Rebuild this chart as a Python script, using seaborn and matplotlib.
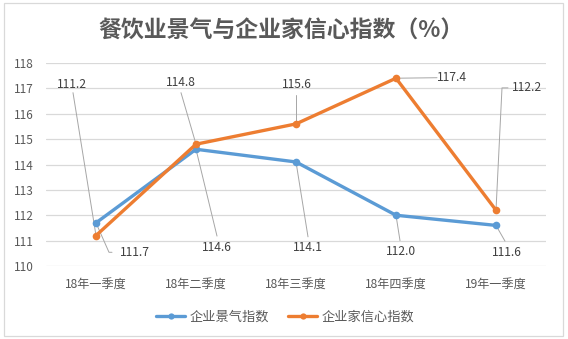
import numpy as np
import pandas as pd
import matplotlib
matplotlib.use("Agg")
import matplotlib.pyplot as plt
from matplotlib.lines import Line2D
from matplotlib.patches import Rectangle
import seaborn as sns

# ---- data ----
categories = ["18年一季度", "18年二季度", "18年三季度", "18年四季度", "19年一季度"]
prosperity = [111.7, 114.6, 114.1, 112.0, 111.6]      # 企业景气指数
confidence = [111.2, 114.8, 115.6, 117.4, 112.2]      # 企业家信心指数
series_names = ["企业景气指数", "企业家信心指数"]
title = "餐饮业景气与企业家信心指数（%）"

# ---- layout (label placements, in data coords) ----
blue_lbl = [(0.39, 110.54), (1.21, 110.74), (2.12, 110.74), (3.05, 110.58), (4.11, 110.54)]
orange_lbl = [(-0.24, 117.14), (0.85, 117.22), (2.01, 117.14), (3.56, 117.42), (4.31, 117.02)]
blue_lead = [[(0.16, 110.54), (0.13, 110.54)], [(1.21, 111.18)], [(2.12, 111.15)],
             [(3.04, 111.0)], [(4.09, 110.98)]]
orange_lead = [[(-0.23, 116.83)], [(0.85, 116.83)], [(2.0, 116.75)],
               [(3.41, 117.42)], [(4.12, 117.02), (4.06, 117.02)]]

sns.set_theme(style="white")
plt.rcParams["font.family"] = ["Noto Sans CJK SC", "DejaVu Sans"]

BLUE = "#5B9BD5"
ORANGE = "#ED7D31"
GRID = "#D9D9D9"
TXT = "#595959"

df = pd.DataFrame({
    "x": list(range(len(categories))) * 2,
    "value": prosperity + confidence,
    "series": [series_names[0]] * len(categories) + [series_names[1]] * len(categories),
})

fig = plt.figure(figsize=(5.68, 3.39), dpi=100)
fig.patch.set_facecolor("white")
fig.patches.append(Rectangle((4 / 568, 3 / 339), 559 / 568, 333 / 339, transform=fig.transFigure,
                             fill=False, edgecolor=GRID, lw=0.9))
ax = fig.add_axes([46 / 568, 1 - 266 / 339, 500 / 568, 203 / 339])

sns.lineplot(data=df, x="x", y="value", hue="series", palette=[BLUE, ORANGE],
             marker="o", markersize=5.5, markeredgewidth=0, linewidth=2.4, ax=ax,
             legend=False, zorder=3)

ax.set_xlim(-0.5, len(categories) - 0.5)
ax.set_ylim(110, 118)
ax.set_yticks(np.arange(110, 119, 1))
ax.set_xticks(range(len(categories)))
ax.set_xticklabels(categories)
ax.set_xlabel("")
ax.set_ylabel("")
for s in ax.spines.values():
    s.set_visible(False)
ax.yaxis.grid(True, color=GRID, lw=0.9)
ax.xaxis.grid(False)
ax.tick_params(axis="both", length=0, colors=TXT)
ax.tick_params(axis="y", labelsize=8.5, pad=9)
ax.tick_params(axis="x", labelsize=8.7, pad=8.5)

LEAD = "#A6A6A6"
for vals, lbls, leads in ((prosperity, blue_lbl, blue_lead), (confidence, orange_lbl, orange_lead)):
    for i, v in enumerate(vals):
        pts = leads[i] + [(i, v)]
        ax.plot([p[0] for p in pts], [p[1] for p in pts], color=LEAD, lw=0.7, zorder=2)
        ax.text(lbls[i][0], lbls[i][1], f"{v:.1f}", ha="center", va="center",
                fontsize=8.7, color="#404040", zorder=4)

fig.text(0.495, 1 - 31 / 339, title, ha="center", va="center", fontsize=16.5,
         color=TXT, fontweight="bold")

handles = [Line2D([], [], color=c, lw=2.4, marker="o", markersize=4.5, markeredgewidth=0)
           for c in (BLUE, ORANGE)]
fig.legend(handles, series_names, loc="center", bbox_to_anchor=(0.502, 1 - 317 / 339),
           ncol=2, frameon=False, fontsize=9.5, handlelength=2.2, handletextpad=0.3,
           columnspacing=1.5, labelcolor=TXT)

fig.savefig("out.png", dpi=100)
